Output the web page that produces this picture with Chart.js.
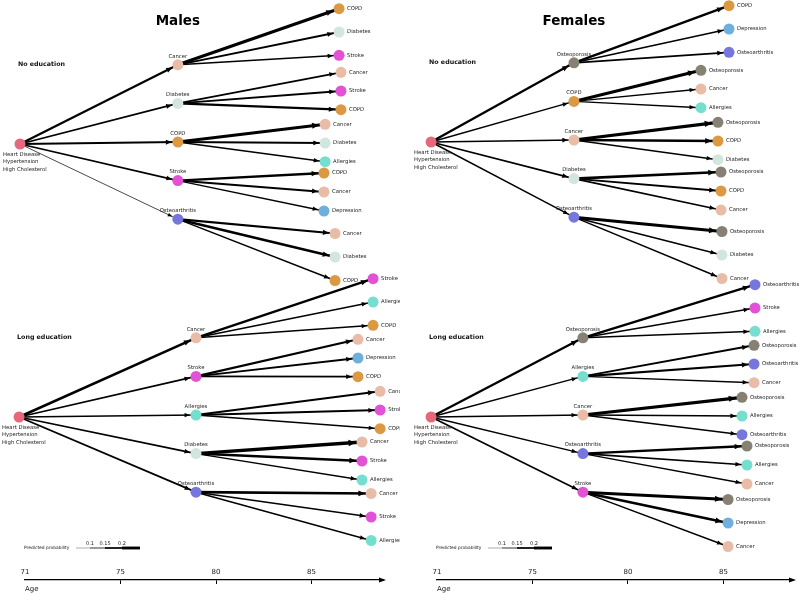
<!DOCTYPE html>
<html><head><meta charset="utf-8">
<script src="https://cdn.jsdelivr.net/npm/chart.js@4.4.1/dist/chart.umd.min.js"></script>
<style>
html,body{margin:0;padding:0;background:#fff;}
#wrap{position:relative;width:800px;height:594px;overflow:hidden;}
.panel{position:absolute;top:0;width:400px;height:594px;}
canvas{display:block;}
</style></head><body>
<div id="wrap">
<div class="panel" style="left:0"><canvas id="males" width="400" height="594"></canvas></div>
<div class="panel" style="left:400px"><canvas id="females" width="400" height="594"></canvas></div>
</div>
<script>
// ================= DATA =================
const ageTicks = [70, 75, 80, 85];
const ageTickLabels = ['71', '75', '80', '85'];
const rootConditions = ['Heart Disease', 'Hypertension', 'High Cholesterol'];
const legendProbs = [0.1, 0.15, 0.2];
const panelTitles = ['Males', 'Females'];
const blockLabels = ['No education', 'Long education'];

// Males - No education
const mNoRootAge = 69.74;
const mNoL1Age = 78.0;
const mNoL1 = ['Cancer', 'Diabetes', 'COPD', 'Stroke', 'Osteoarthritis'];
const mNoL1Prob = [0.16, 0.14, 0.15, 0.13, 0.08];
const mNoL2 = [['COPD', 'Diabetes', 'Stroke'], ['Cancer', 'Stroke', 'COPD'], ['Cancer', 'Diabetes', 'Allergies'], ['COPD', 'Cancer', 'Depression'], ['Cancer', 'Diabetes', 'COPD']];
const mNoL2Age = [86.44, 86.54, 85.71, 85.65, 86.23];
const mNoL2Prob = [[0.21, 0.14, 0.12], [0.14, 0.14, 0.16], [0.21, 0.14, 0.12], [0.17, 0.15, 0.12], [0.16, 0.18, 0.12]];

// Males - Long education
const mLongRootAge = 69.69;
const mLongL1Age = 78.95;
const mLongL1 = ['Cancer', 'Stroke', 'Allergies', 'Diabetes', 'Osteoarthritis'];
const mLongL1Prob = [0.18, 0.13, 0.12, 0.13, 0.14];
const mLongL2 = [['Stroke', 'Allergies', 'COPD'], ['Cancer', 'Depression', 'COPD'], ['Cancer', 'Stroke', 'COPD'], ['Cancer', 'Stroke', 'Allergies'], ['Cancer', 'Stroke', 'Allergies']];
const mLongL2Age = [88.22, 87.43, 88.59, 87.64, 88.12];
const mLongL2Prob = [[0.17, 0.12, 0.12], [0.16, 0.14, 0.14], [0.16, 0.14, 0.12], [0.23, 0.18, 0.12], [0.19, 0.13, 0.12]];

// Females - No education
const fNoRootAge = 69.69;
const fNoL1Age = 77.17;
const fNoL1 = ['Osteoporosis', 'COPD', 'Cancer', 'Diabetes', 'Osteoarthritis'];
const fNoL1Prob = [0.17, 0.12, 0.13, 0.14, 0.12];
const fNoL2 = [['COPD', 'Depression', 'Osteoarthritis'], ['Osteoporosis', 'Cancer', 'Allergies'], ['Osteoporosis', 'COPD', 'Diabetes'], ['Osteoporosis', 'COPD', 'Cancer'], ['Osteoporosis', 'Diabetes', 'Cancer']];
const fNoL2Age = [85.29, 83.82, 84.71, 84.87, 84.92];
const fNoL2Prob = [[0.17, 0.13, 0.14], [0.21, 0.12, 0.12], [0.22, 0.19, 0.12], [0.19, 0.14, 0.13], [0.2, 0.13, 0.12]];

// Females - Long education
const fLongRootAge = 69.69;
const fLongL1Age = 77.64;
const fLongL1 = ['Osteoporosis', 'Allergies', 'Cancer', 'Osteoarthritis', 'Stroke'];
const fLongL1Prob = [0.17, 0.12, 0.12, 0.12, 0.13];
const fLongL2 = [['Osteoarthritis', 'Stroke', 'Allergies'], ['Osteoporosis', 'Osteoarthritis', 'Cancer'], ['Osteoporosis', 'Allergies', 'Osteoarthritis'], ['Osteoporosis', 'Allergies', 'Cancer'], ['Osteoporosis', 'Depression', 'Cancer']];
const fLongL2Age = [86.65, 86.6, 85.97, 86.23, 85.24];
const fLongL2Prob = [[0.17, 0.12, 0.13], [0.15, 0.16, 0.12], [0.22, 0.13, 0.12], [0.17, 0.13, 0.12], [0.21, 0.19, 0.12]];

// ================= STYLE / LAYOUT =================
const FONT = "'DejaVu Sans', 'Liberation Sans', sans-serif";
Chart.defaults.font.family = FONT;
const diseaseColors = {
  'Heart Disease': '#e5687c', Cancer: '#e9bca8', COPD: '#db9944', Diabetes: '#d2e5de',
  Stroke: '#e153d4', Osteoarthritis: '#7676dc', Allergies: '#76decf', Depression: '#6fafdd', Osteoporosis: '#868173'
};
const L1_GAP = 38.6;
const GROUP_SPREAD = [23.3, 18.7, 18.7, 19, 23.5];
const NODE_R = 5.5;
const LABEL_FONT = '5.3px ' + FONT;

function lw(p) { return Math.max(0.6, (p - 0.04) * 18); }

function block(rootAge, l1Age, l1, l1Prob, l2, l2Age, l2Prob) {
  return { rootAge, l1Age, l1, l1Prob, l2, l2Age, l2Prob };
}

function makePanel(canvasId, title, blocks, layout) {
  const edges = [], nodes = [];
  blocks.forEach((b, bi) => {
    const c = layout.centers[bi];
    const gOff = layout.groupOff[bi];
    const root = { x: b.rootAge, y: c + 2, name: 'Heart Disease', level: 0, block: bi };
    nodes.push(root);
    b.l1.forEach((name, i) => {
      const n1 = { x: b.l1Age, y: c + (i - 2) * L1_GAP, name, level: 1, block: bi, idx: i };
      nodes.push(n1);
      edges.push({ from: root, to: n1, p: b.l1Prob[i] });
      b.l2[i].forEach((name2, j) => {
        const n2 = { x: b.l2Age[i], y: c + 1 + gOff[i] + (j - 1) * GROUP_SPREAD[i], name: name2, level: 2 };
        nodes.push(n2);
        edges.push({ from: n1, to: n2, p: b.l2Prob[i][j] });
      });
    });
  });

  const datasets = edges.map(e => ({
    type: 'line',
    data: [{ x: e.from.x, y: e.from.y }, { x: e.to.x, y: e.to.y }],
    borderColor: '#000', borderWidth: lw(e.p), borderCapStyle: 'butt',
    pointRadius: 0, clip: false, order: 2, isEdge: true
  }));
  const nodeIdx = datasets.length;
  datasets.push({
    type: 'scatter',
    data: nodes.map(n => ({ x: n.x, y: n.y })),
    pointBackgroundColor: nodes.map(n => diseaseColors[n.name]),
    pointBorderColor: 'rgba(0,0,0,0)',
    pointBorderWidth: 4, pointRadius: NODE_R, pointHoverRadius: NODE_R, clip: false, order: 0
  });

  const treePlugin = {
    id: 'tree',
    afterDatasetDraw(chart, args) {
      const ds = chart.data.datasets[args.index];
      if (!ds.isEdge) return;
      const pts = args.meta.data;
      const ax = pts[0].x, ay = pts[0].y, bx = pts[1].x, by = pts[1].y;
      const L = Math.hypot(bx - ax, by - ay);
      const ux = (bx - ax) / L, uy = (by - ay) / L;
      const w = ds.borderWidth;
      const tipX = bx - ux * (NODE_R + 0.6), tipY = by - uy * (NODE_R + 0.6);
      const hl = 3.8 + w * 1.05, hw = 1.5 + w * 0.5;
      const baseX = tipX - ux * hl, baseY = tipY - uy * hl;
      const ctx = chart.ctx;
      ctx.save();
      ctx.fillStyle = '#000';
      ctx.beginPath();
      ctx.moveTo(tipX, tipY);
      ctx.lineTo(baseX - uy * hw, baseY + ux * hw);
      ctx.lineTo(baseX + uy * hw, baseY - ux * hw);
      ctx.closePath();
      ctx.fill();
      ctx.restore();
    },
    afterDatasetsDraw(chart) {
      const ctx = chart.ctx;
      const meta = chart.getDatasetMeta(nodeIdx);
      ctx.save();
      ctx.fillStyle = '#222';
      ctx.font = LABEL_FONT;
      ctx.textBaseline = 'middle';
      nodes.forEach((n, k) => {
        const p = meta.data[k];
        if (n.level === 0) {
          ctx.textAlign = 'left';
          rootConditions.forEach((t, li) => ctx.fillText(t, p.x - 17, p.y + 10.5 + li * 7.6));
        } else if (n.level === 1) {
          ctx.textAlign = 'center';
          ctx.fillText(n.name, p.x, p.y - 8.5);
        } else {
          ctx.textAlign = 'left';
          ctx.fillText(n.name, p.x + 8, p.y);
        }
      });
      ctx.font = 'bold 6.3px ' + FONT;
      ctx.fillStyle = '#111';
      ctx.textAlign = 'left';
      nodes.forEach((n, k) => {
        if (n.level === 1 && n.idx === 0) {
          const r = meta.data[nodes.findIndex(m => m.level === 0 && m.block === n.block)];
          ctx.fillText(blockLabels[n.block], r.x - 2, meta.data[k].y);
        }
      });
      ctx.restore();
    },
    afterDraw(chart) {
      const ctx = chart.ctx;
      const area = chart.chartArea;
      const meta = chart.getDatasetMeta(nodeIdx);
      ctx.save();
      const l1 = meta.data[nodes.findIndex(n => n.level === 1)];
      ctx.font = 'bold 13.5px ' + FONT;
      ctx.fillStyle = '#000';
      ctx.textAlign = 'center';
      ctx.textBaseline = 'middle';
      ctx.fillText(title, l1.x, 21);
      // axis arrow head
      const ay = area.bottom;
      ctx.beginPath();
      ctx.moveTo(area.right + 3, ay);
      ctx.lineTo(area.right - 4, ay - 2.6);
      ctx.lineTo(area.right - 4, ay + 2.6);
      ctx.closePath();
      ctx.fill();
      // probability legend
      const lx = area.left, ly = 548;
      ctx.font = '4.4px ' + FONT;
      ctx.fillStyle = '#222';
      ctx.textAlign = 'left';
      ctx.fillText('Predicted probability', lx - 1, ly);
      const bounds = [51, 65, 80, 97, 115];
      const segW = [0.7, lw(legendProbs[0]), lw(legendProbs[1]), lw(legendProbs[2])];
      const segC = ['#888', '#444', '#222', '#000'];
      for (let s = 0; s < 4; s++) {
        ctx.strokeStyle = segC[s];
        ctx.lineWidth = segW[s];
        ctx.beginPath();
        ctx.moveTo(lx + bounds[s], ly);
        ctx.lineTo(lx + bounds[s + 1], ly);
        ctx.stroke();
      }
      ctx.font = '5px ' + FONT;
      ctx.textAlign = 'center';
      ctx.fillStyle = '#222';
      legendProbs.forEach((p, i) => ctx.fillText(String(p), lx + bounds[i + 1], ly - 4.5));
      ctx.restore();
    }
  };

  return new Chart(document.getElementById(canvasId), {
    type: 'scatter',
    data: { datasets },
    options: {
      responsive: false, animation: false, events: [],
      layout: { autoPadding: false, padding: { left: layout.padLeft, right: layout.padRight, top: 0, bottom: 1 } },
      plugins: { legend: { display: false }, tooltip: { enabled: false }, title: { display: false } },
      scales: {
        x: {
          type: 'linear', position: 'bottom', min: 70, max: layout.xMax,
          afterBuildTicks: s => { s.ticks = ageTicks.map(v => ({ value: v })); },
          ticks: {
            callback: (v, i) => ageTickLabels[i], autoSkip: false, maxRotation: 0, mirror: true,
            font: { size: 7, family: FONT }, color: '#222', padding: 3.8
          },
          grid: { drawOnChartArea: false, drawTicks: true, tickLength: 4, lineWidth: 1,
                  color: ctx => (ctx.index === 0 ? 'rgba(0,0,0,0)' : '#000') },
          border: { display: true, color: '#000', width: 1.3 },
          title: { display: true, text: 'Age', align: 'start', color: '#222',
                   font: { size: 7, family: FONT }, padding: { top: -7, bottom: 0 } }
        },
        y: { display: false, min: 0, max: 580, reverse: true }
      }
    },
    plugins: [treePlugin]
  });
}

makePanel('males', panelTitles[0], [
  block(mNoRootAge, mNoL1Age, mNoL1, mNoL1Prob, mNoL2, mNoL2Age, mNoL2Prob),
  block(mLongRootAge, mLongL1Age, mLongL1, mLongL1Prob, mLongL2, mLongL2Age, mLongL2Prob)
], { centers: [142, 415], groupOff: [[-111, -52, 0, 49, 114], [-114, -58, -6, 45, 101]],
     padLeft: 25, padRight: 17, xMax: 88.74 });

makePanel('females', panelTitles[1], [
  block(fNoRootAge, fNoL1Age, fNoL1, fNoL1Prob, fNoL2, fNoL2Age, fNoL2Prob),
  block(fLongRootAge, fLongL1Age, fLongL1, fLongL1Prob, fLongL2, fLongL2Age, fLongL2Prob)
], { centers: [140, 415], groupOff: [[-112, -52, 0, 50, 114], [-108, -52, 0, 49, 107]],
     padLeft: 37, padRight: 7, xMax: 88.64 });
</script>
</body></html>
